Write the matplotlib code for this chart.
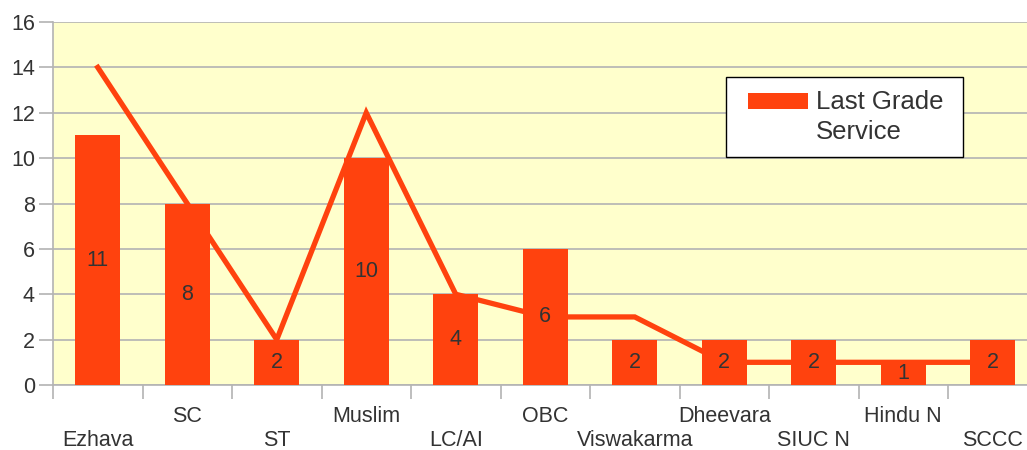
import matplotlib
matplotlib.use("Agg")
import matplotlib.pyplot as plt
from matplotlib.patches import Patch, Rectangle
from matplotlib.legend_handler import HandlerPatch

plt.rcParams['font.family'] = ['Liberation Sans', 'DejaVu Sans']

categories = ["Ezhava", "SC", "ST", "Muslim", "LC/AI", "OBC", "Viswakarma",
              "Dheevara", "SIUC N", "Hindu N", "SCCC"]
bar_values = [11, 8, 2, 10, 4, 6, 2, 2, 2, 1, 2]
line_values = [14, 8, 2, 12, 4, 3, 3, 1, 1, 1, 1]
legend_label = "Last Grade \nService"

color = "#ff420e"
text_color = "#333333"
grid_color = "#b3b3b3"
fs = 15.5

fig = plt.figure(figsize=(10.27, 4.5), dpi=100)
W, H = 1027, 450
left, right, top, bottom = 53, 1037.5, 22, 385
ax = fig.add_axes([left / W, 1 - bottom / H, (right - left) / W, (bottom - top) / H])
ax.set_facecolor("#ffffcc")

x = list(range(len(categories)))
ax.plot(x, line_values, color=color, lw=3.8, zorder=2, solid_joinstyle='miter')
bars = ax.bar(x, bar_values, width=0.5, color=color, zorder=3)
for xi, v in zip(x, bar_values):
    ax.text(xi, v / 2, str(v), ha='center', va='center', fontsize=fs,
            color=text_color, zorder=4)

ax.set_xlim(-0.5, len(categories) - 0.5)
ax.set_ylim(0, 16)
ax.set_yticks(range(0, 17, 2))
ax.yaxis.grid(True, color=grid_color, lw=1.2, zorder=0)
ax.set_axisbelow(True)
ax.tick_params(axis='y', labelsize=fs, labelcolor=text_color, color=grid_color,
               length=10, width=1.2, pad=3)

ax.set_xticks([i - 0.5 for i in range(len(categories))] + [len(categories) - 0.5])
ax.set_xticklabels([])
ax.tick_params(axis='x', color=grid_color, length=10, width=1.2)
for i, c in enumerate(categories):
    y = -0.152 if i % 2 == 0 else -0.086
    ax.text(i, y, c, transform=ax.get_xaxis_transform(), ha='center', va='center',
            fontsize=fs, color=text_color, clip_on=False)

for s in ['top', 'right']:
    ax.spines[s].set_visible(False)
for s in ['left', 'bottom']:
    ax.spines[s].set_color(grid_color)
    ax.spines[s].set_linewidth(1.2)

lfs = 18.5
off_x = 6.5   # points of extra left padding before the handle
off_y = 12.0  # raise the handle toward the first text line


def make_patch(legend, orig_handle, xdescent, ydescent, width, height, fontsize):
    return Rectangle((-xdescent + off_x, -ydescent + off_y), width - off_x, height)


handle = Patch(facecolor=color, edgecolor='none')
leg = ax.legend([handle], [legend_label], loc='upper left',
                bbox_to_anchor=((726 - left) / (right - left), (bottom - 77) / (bottom - top)),
                fontsize=lfs, frameon=True, fancybox=False,
                handlelength=2.35 + off_x / lfs,
                handleheight=0.58, borderpad=0.5, labelcolor=text_color,
                handletextpad=0.3, borderaxespad=0,
                handler_map={Patch: HandlerPatch(patch_func=make_patch)})
leg.get_frame().set_edgecolor('#000000')
leg.get_frame().set_linewidth(1)
leg.get_frame().set_facecolor('white')
leg.get_frame().set_alpha(1)
for t in leg.get_texts():
    t.set_linespacing(1.35)

fig.savefig("out.png", dpi=100)
